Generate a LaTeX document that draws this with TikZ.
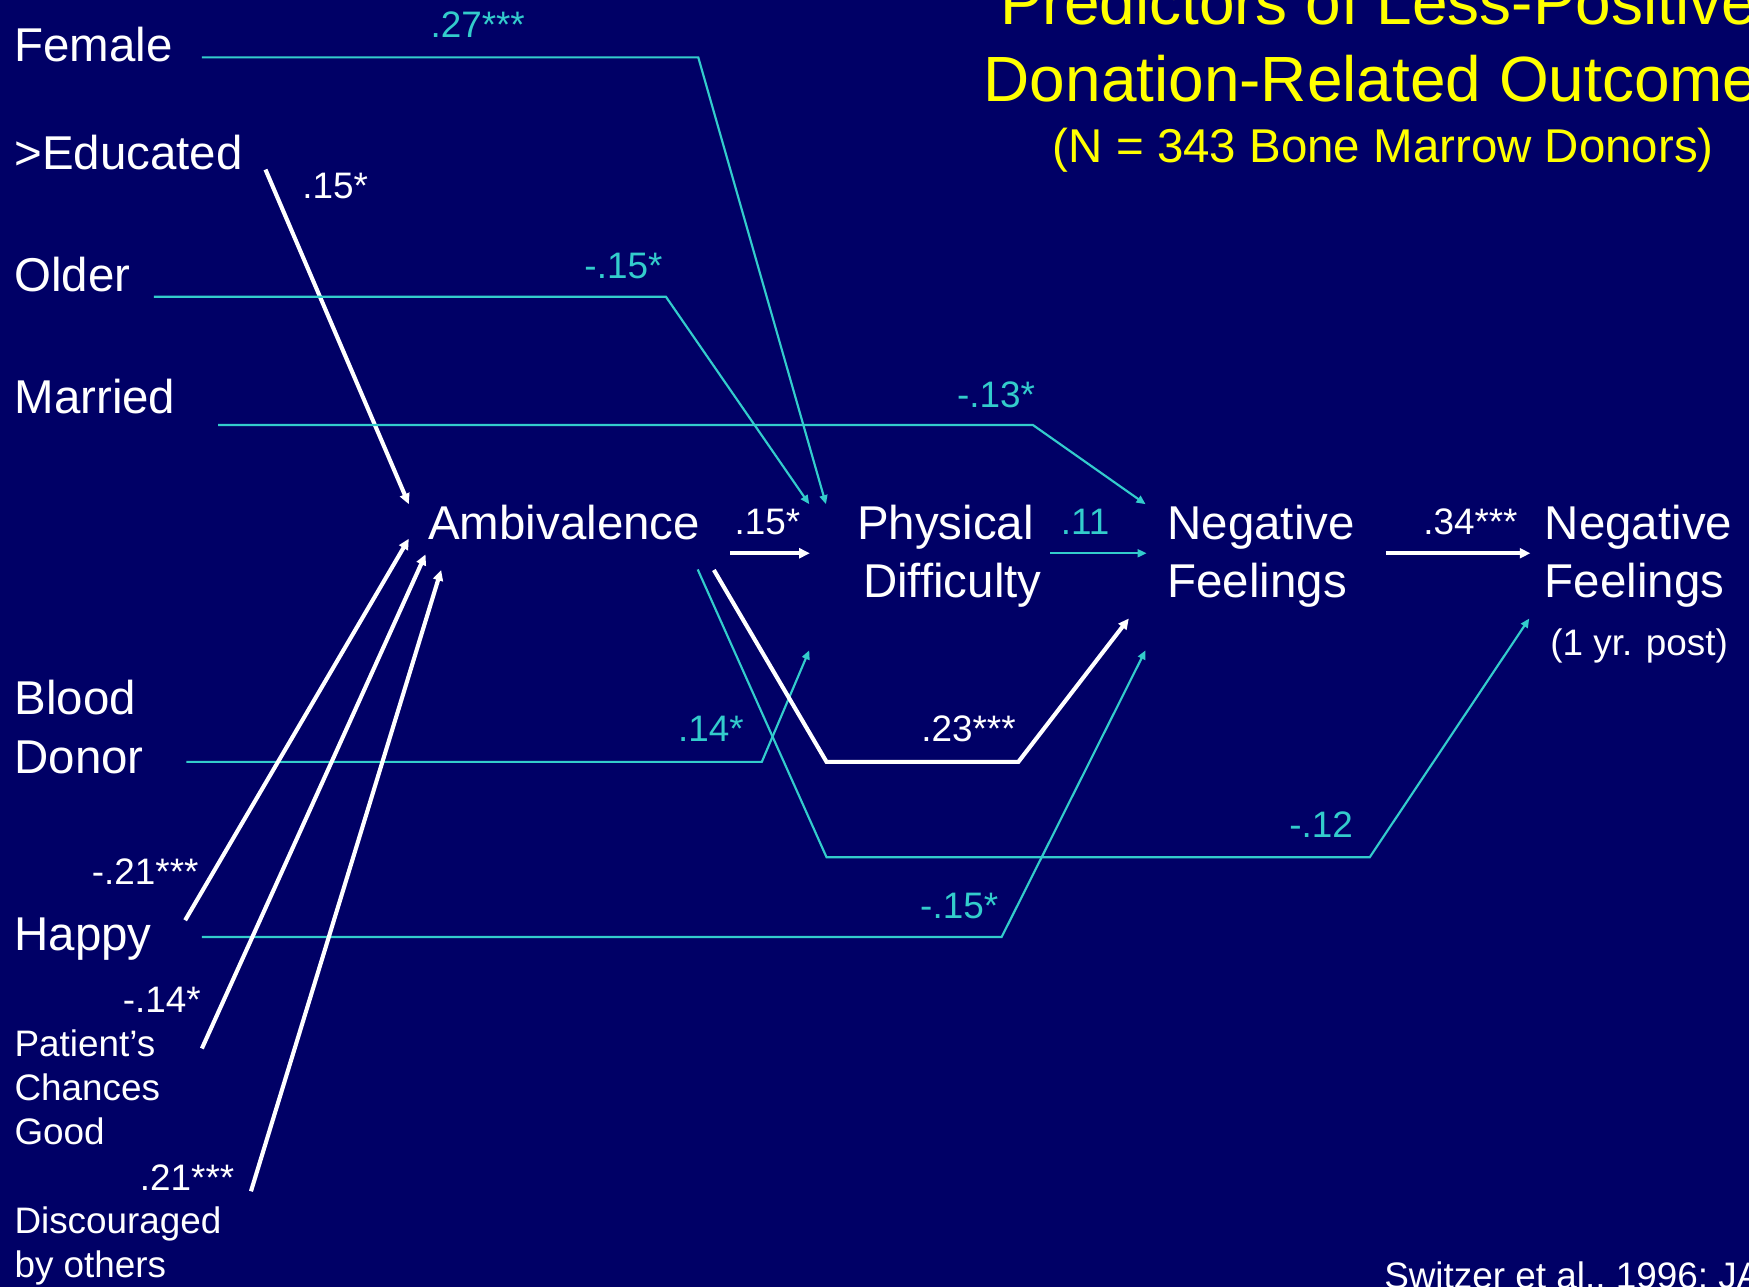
\documentclass[tikz,border=0pt]{standalone}
\usepackage{fontspec}
\setmainfont{Liberation Sans}
\usetikzlibrary{arrows.meta}
\definecolor{bg}{HTML}{000066}
\definecolor{tq}{HTML}{33CCCC}
\definecolor{ttl}{HTML}{FFFF00}
\begin{document}
\begin{tikzpicture}[x=0.01cm,y=-0.01cm,
  lbl/.style={anchor=base west,inner sep=0,outer sep=0,text=white,font=\fontsize{12.1}{14.8}\selectfont},
  sml/.style={anchor=base west,inner sep=0,outer sep=0,text=white,font=\fontsize{9.4}{11.2}\selectfont},
  numw/.style={anchor=base west,inner sep=0,outer sep=0,text=white,font=\fontsize{9.4}{11.2}\selectfont},
  numc/.style={numw,text=tq},
  ttlstyle/.style={anchor=base west,inner sep=0,outer sep=0,text=ttl},
  wline/.style={draw=white,line width=1.05pt,line join=miter},
  cline/.style={draw=tq,line width=0.55pt},
  wtip/.style={-{Triangle[length=2.7pt,width=2.5pt]}},
  ctip/.style={-{Triangle[length=2.3pt,width=2.0pt]}},
]
\fill[bg] (0,0) rectangle (1568,1154);
\useasboundingbox (0,0) rectangle (1568,1154);

% title
\node[ttlstyle,font=\fontsize{16.3}{20}\selectfont] (t1) at (896.6,22.4) {Predictors of Less-Positive};
\node[ttlstyle,font=\fontsize{16.3}{20}\selectfont] (t2) at (882,91.2) {Donation-Related Outcomes};
\node[ttlstyle,font=\fontsize{12.1}{14.8}\selectfont] (t3) at (944,146) {(N = 343 Bone Marrow Donors)};

% variable labels
\node[lbl] (female) at (13,55) {Female};
\node[lbl] (edu) at (13,152.4) {>Educated};
\node[lbl] (older) at (13,261.5) {Older};
\node[lbl] (married) at (13,370.5) {Married};
\node[lbl] (amb) at (384,484) {Ambivalence};
\node[lbl] (phys) at (768.5,484) {\begin{tabular}[t]{@{}l@{}}Physical\\\hspace{1.5pt}Difficulty\end{tabular}};
\node[lbl] (nf) at (1046.7,484) {\begin{tabular}[t]{@{}l@{}}Negative\\Feelings\end{tabular}};
\node[lbl] (nf1) at (1385,484) {\begin{tabular}[t]{@{}l@{}}Negative\\Feelings\\\hspace{1.4pt}{\fontsize{9.4}{11.2}\selectfont (1 yr. post)}\end{tabular}};
\node[lbl] (blood) at (13,641) {\begin{tabular}[t]{@{}l@{}}Blood\\Donor\end{tabular}};
\node[lbl] (happy) at (13,852) {Happy};
\node[sml] (chances) at (13,947) {\begin{tabular}[t]{@{}l@{}}Patient’s\\Chances\\Good\end{tabular}};
\node[sml] (disc) at (13,1106) {\begin{tabular}[t]{@{}l@{}}Discouraged\\by others\end{tabular}};
\node[sml] (cite) at (1241,1155) {Switzer et al., 1996; JA};

% coefficient labels
\node[numc] (l27) at (386,34) {.27***};
\node[numw] (l15e) at (271,178) {.15*};
\node[numc] (l15o) at (524,249.5) {-.15*};
\node[numc] (l13) at (858,365) {-.13*};
\node[numw] (l15a) at (658.6,479.6) {.15*};
\node[numc] (l11) at (951,479.6) {.11};
\node[numw] (l34) at (1276,479.6) {.34***};
\node[numc] (l14) at (608,665) {.14*};
\node[numw] (l23) at (826,665) {.23***};
\node[numc] (l12) at (1156,751) {-.12};
\node[numc] (l15h) at (825,823) {-.15*};
\node[numw,anchor=base east] (l21n) at (178,793) {-.21***};
\node[numw,anchor=base east] (l14n) at (180,908) {-.14*};
\node[numw,anchor=base east] (l21p) at (210,1067) {.21***};

% connector points
\coordinate (femA) at (181,51.4);  \coordinate (femB) at (626,51.4);  \coordinate (femC) at (740.5,452);
\coordinate (eduA) at (238,152);   \coordinate (eduB) at (366.5,452);
\coordinate (oldA) at (138,266);   \coordinate (oldB) at (597,266);   \coordinate (oldC) at (725.5,452);
\coordinate (marA) at (195.5,381); \coordinate (marB) at (926,381);   \coordinate (marC) at (1027,452);
\coordinate (apA) at (654.5,496);  \coordinate (apB) at (726,496);
\coordinate (pnA) at (941.5,496);  \coordinate (pnB) at (1028,496);
\coordinate (nnA) at (1242.5,496); \coordinate (nnB) at (1372,496);
\coordinate (bdA) at (167,683);    \coordinate (bdB) at (683,683);    \coordinate (bdC) at (725.5,583);
\coordinate (wA) at (640,511);     \coordinate (wB) at (741,683);     \coordinate (wC) at (913,683);  \coordinate (wD) at (1012,554.5);
\coordinate (cA) at (625.5,510.5); \coordinate (cB) at (741,768.5);   \coordinate (cC) at (1228,768.5); \coordinate (cD) at (1371,554.5);
\coordinate (hpA) at (181,840);    \coordinate (hpB) at (898,840);    \coordinate (hpC) at (1027,583);
\coordinate (h2A) at (166,825);    \coordinate (h2B) at (366.5,483);
\coordinate (pcA) at (181,940);    \coordinate (pcB) at (381.5,497);
\coordinate (dsA) at (225,1068);   \coordinate (dsB) at (395.5,511);

% connectors
\draw[cline,ctip] (femA) -- (femB) -- (femC);
\draw[wline,wtip] (eduA) -- (eduB);
\draw[cline,ctip] (oldA) -- (oldB) -- (oldC);
\draw[cline,ctip] (marA) -- (marB) -- (marC);
\draw[wline,wtip] (apA) -- (apB);
\draw[cline,ctip] (pnA) -- (pnB);
\draw[wline,wtip] (nnA) -- (nnB);
\draw[cline,ctip] (bdA) -- (bdB) -- (bdC);
\draw[wline,wtip] (wA) -- (wB) -- (wC) -- (wD);
\draw[cline,ctip] (cA) -- (cB) -- (cC) -- (cD);
\draw[cline,ctip] (hpA) -- (hpB) -- (hpC);
\draw[wline,wtip] (h2A) -- (h2B);
\draw[wline,wtip] (pcA) -- (pcB);
\draw[wline,wtip] (dsA) -- (dsB);
\end{tikzpicture}
\end{document}
